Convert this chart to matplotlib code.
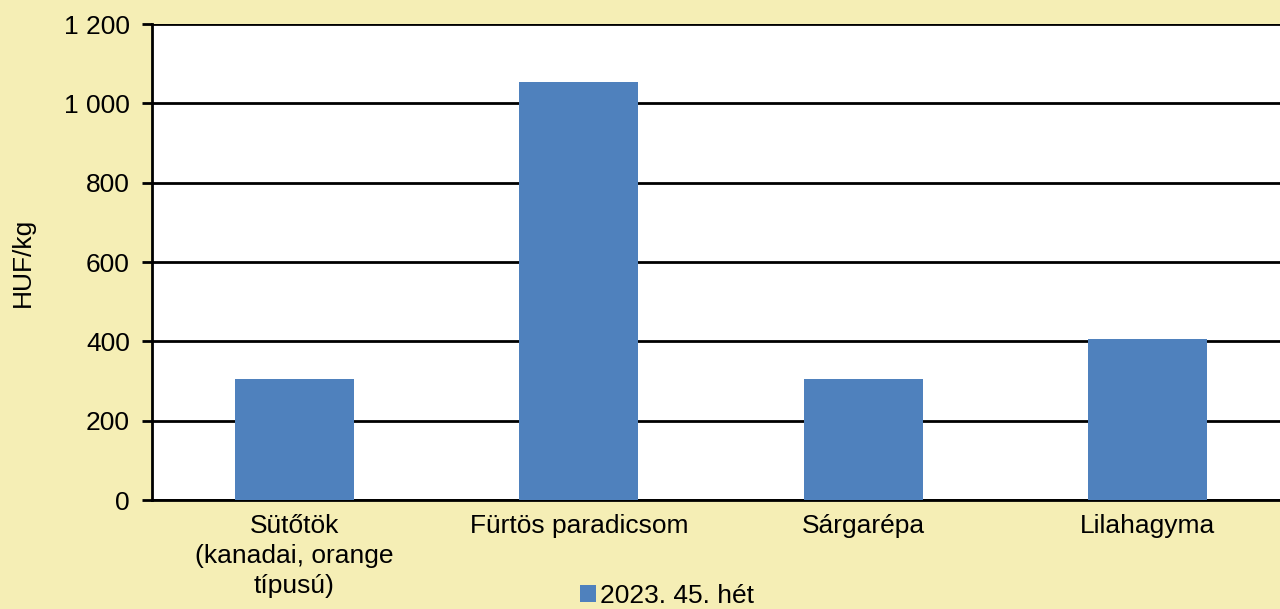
import matplotlib.pyplot as plt
from matplotlib.ticker import FuncFormatter, MultipleLocator

categories = ["Sütőtök\n(kanadai, orange\ntípusú)", "Fürtös paradicsom", "Sárgarépa", "Lilahagyma"]
prices = [305, 1055, 305, 406]
series_label = "2023. 45. hét"

BG = "#F5EEB5"
BAR = "#4F81BD"
FS = 19

plt.rcParams["font.family"] = ["Liberation Sans", "DejaVu Sans"]

fig = plt.figure(figsize=(12.8, 6.09), dpi=100, facecolor=BG)
ax = fig.add_axes([152 / 1280, 109 / 609, 1128 / 1280, 476 / 609])
ax.set_facecolor("white")

x = range(len(categories))
ax.bar(x, prices, width=0.418, color=BAR, label=series_label, zorder=3)

# category spacing runs slightly past the right edge of the picture
ax.set_xlim(-0.5, 1128 / 284.5 - 0.5)
ax.set_ylim(0, 1200)
ax.yaxis.set_major_locator(MultipleLocator(200))
ax.yaxis.set_major_formatter(FuncFormatter(lambda v, p: f"{int(v):,}".replace(",", " ")))
ax.grid(axis="y", color="black", linewidth=2, zorder=1)

ax.set_xticks(list(x))
ax.set_xticklabels(categories, fontsize=FS, linespacing=1.32)
ax.tick_params(axis="x", length=0, pad=10)
ax.tick_params(axis="y", labelsize=FS, length=7, width=2, pad=9)

for side in ["top", "right"]:
    ax.spines[side].set_visible(False)
ax.spines["left"].set_linewidth(2)
ax.spines["bottom"].set_linewidth(2)

ax.set_ylabel("HUF/kg", fontsize=FS)
ax.yaxis.set_label_coords(-117 / 1128, 0.5)

fig.legend(loc="center", bbox_to_anchor=(667 / 1280, 1 - 596 / 609), frameon=False,
           fontsize=FS, handlelength=0.6, handleheight=0.6, handletextpad=0.15)

fig.savefig("out.png", facecolor=BG)
